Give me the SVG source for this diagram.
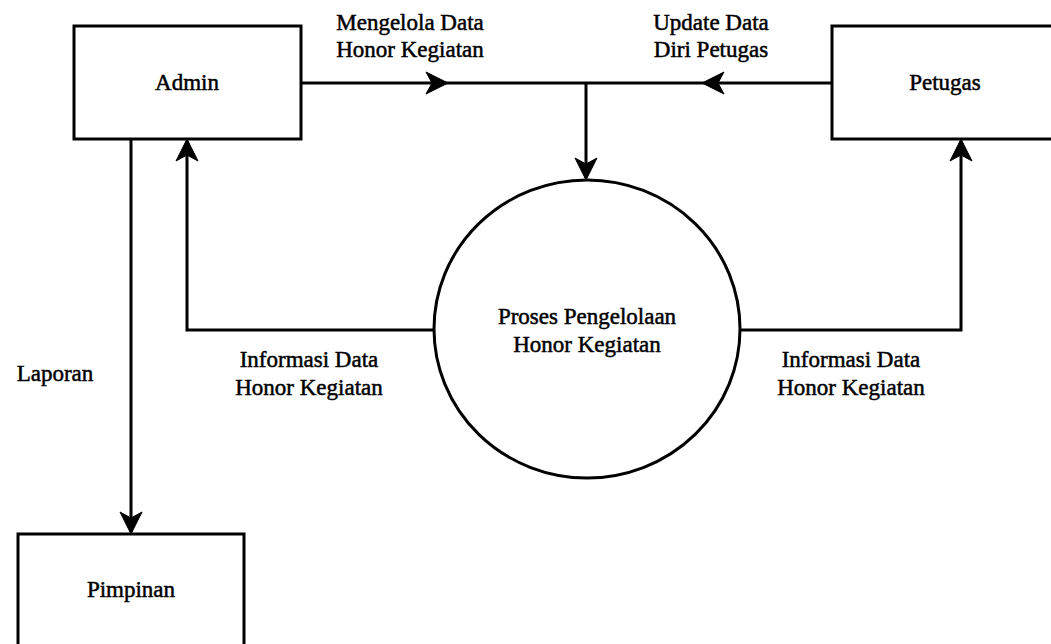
<svg xmlns="http://www.w3.org/2000/svg" width="1051" height="644" viewBox="0 0 1051 644">
<style>
.box{fill:#fff;stroke:#000;stroke-width:3}
.ln{fill:none;stroke:#000;stroke-width:3}
.t{font-family:"Liberation Serif","Times New Roman",serif;font-size:23px;fill:#000;stroke:#000;stroke-width:0.5;text-anchor:middle}
</style>
<defs>
<path id="ah" d="M0,0 L-22,-11 L-16,0 L-22,11 Z" fill="#000" stroke="#000" stroke-width="1" stroke-linejoin="miter"/>
</defs>
<rect width="1051" height="644" fill="#fff"/>
<g id="connectors">
<path class="ln" d="M301,83 H832"/>
<path class="ln" d="M586,83 V178"/>
<path class="ln" d="M131,139 V532"/>
<path class="ln" d="M434,330 H187 V141"/>
<path class="ln" d="M740,330 H961 V141"/>
<use href="#ah" transform="translate(448,83)"/>
<use href="#ah" transform="translate(702,83) rotate(180)"/>
<use href="#ah" transform="translate(586,180) rotate(90)"/>
<use href="#ah" transform="translate(187,139) rotate(-90)"/>
<use href="#ah" transform="translate(961,139) rotate(-90)"/>
<use href="#ah" transform="translate(131,534) rotate(90)"/>
<text class="t" x="410" y="30">Mengelola Data</text>
<text class="t" x="410" y="57">Honor Kegiatan</text>
<text class="t" x="711" y="30">Update Data</text>
<text class="t" x="711" y="57">Diri Petugas</text>
<text class="t" x="55" y="381">Laporan</text>
<text class="t" x="309" y="367">Informasi Data</text>
<text class="t" x="309" y="395">Honor Kegiatan</text>
<text class="t" x="851" y="367">Informasi Data</text>
<text class="t" x="851" y="395">Honor Kegiatan</text>
</g>
<g id="admin">
<rect class="box" x="74" y="26" width="227" height="113"/>
<text class="t" x="187" y="90">Admin</text>
</g>
<g id="petugas">
<rect class="box" x="832" y="26" width="227" height="113"/>
<text class="t" x="945" y="90">Petugas</text>
</g>
<g id="pimpinan">
<rect class="box" x="18" y="534" width="226" height="113"/>
<text class="t" x="131" y="597">Pimpinan</text>
</g>
<g id="proses">
<ellipse class="box" cx="587" cy="329" rx="153" ry="149"/>
<text class="t" x="587" y="324">Proses Pengelolaan</text>
<text class="t" x="587" y="352">Honor Kegiatan</text>
</g>
</svg>
